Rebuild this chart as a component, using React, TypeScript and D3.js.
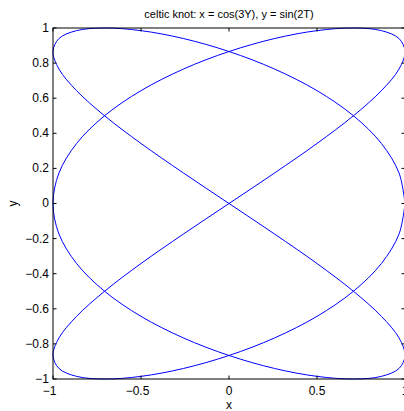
import React, { useRef, useEffect } from 'react';
import * as d3 from 'd3';

// points, in drawing order
const curveX = [
  1, 0.966, 0.866, 0.707, 0.5, 0.259, 0, -0.259, -0.5, -0.707, -0.866, -0.966,
  -1, -0.966, -0.866, -0.707, -0.5, -0.259, 0, 0.259, 0.5, 0.707, 0.866, 0.966,
  1, 0.966, 0.866, 0.707, 0.5, 0.259, 0, -0.259, -0.5, -0.707, -0.866, -0.966,
  -1, -0.966, -0.866, -0.707, -0.5, -0.259, 0, 0.259, 0.5, 0.707, 0.866, 0.966,
  1, 0.966, 0.866, 0.707, 0.5, 0.259, 0, -0.259, -0.5, -0.707, -0.866, -0.966,
  -1, -0.966, -0.866, -0.707, -0.5, -0.259, 0, 0.259, 0.5, 0.707, 0.866, 0.966,
  1,
];
const curveY = [
  0, 0.174, 0.342, 0.5, 0.643, 0.766, 0.866, 0.94, 0.985, 1, 0.985, 0.94,
  0.866, 0.766, 0.643, 0.5, 0.342, 0.174, 0, -0.174, -0.342, -0.5, -0.643, -0.766,
  -0.866, -0.94, -0.985, -1, -0.985, -0.94, -0.866, -0.766, -0.643, -0.5, -0.342, -0.174,
  0, 0.174, 0.342, 0.5, 0.643, 0.766, 0.866, 0.94, 0.985, 1, 0.985, 0.94,
  0.866, 0.766, 0.643, 0.5, 0.342, 0.174, 0, -0.174, -0.342, -0.5, -0.643, -0.766,
  -0.866, -0.94, -0.985, -1, -0.985, -0.94, -0.866, -0.766, -0.643, -0.5, -0.342, -0.174,
  0,
];

const xTicks = [-1, -0.5, 0, 0.5, 1];
const yTicks = [-1, -0.8, -0.6, -0.4, -0.2, 0, 0.2, 0.4, 0.6, 0.8, 1];

const titleText = 'celtic knot: x = cos(3Y), y = sin(2T)';
const xLabel = 'x';
const yLabel = 'y';

const fmt = (v: number) => (v < 0 ? '\u2212' + Math.abs(v) : String(v));

const App = () => {
  const svgRef = useRef<SVGSVGElement>(null);

  useEffect(() => {
    const width = 404;
    const height = 411;
    const margin = { top: 28, left: 53 };
    const innerW = 352;
    const innerH = 351;
    const tick = 3.5;

    const svg = d3.select(svgRef.current);
    svg.selectAll('*').remove();
    svg.attr('width', width).attr('height', height)
      .style('background', '#fff')
      .style('font-family', '"Liberation Sans", Arial, sans-serif');

    const x = d3.scaleLinear().domain([-1, 1]).range([margin.left, margin.left + innerW]);
    const y = d3.scaleLinear().domain([-1, 1]).range([margin.top + innerH, margin.top]);

    const pts = curveX.map((v, i) => [v, curveY[i]] as [number, number]);
    const line = d3.line<[number, number]>()
      .x(d => x(d[0]))
      .y(d => y(d[1]))
      .curve(d3.curveCatmullRom.alpha(0.5));

    svg.append('path')
      .datum(pts)
      .attr('fill', 'none')
      .attr('stroke', '#0000ff')
      .attr('stroke-width', 1)
      .attr('d', line);

    // box
    svg.append('rect')
      .attr('x', x(-1)).attr('y', y(1))
      .attr('width', innerW).attr('height', innerH)
      .attr('fill', 'none').attr('stroke', '#000').attr('stroke-width', 1);

    // inward ticks, mirrored on opposite sides
    const tg = svg.append('g').attr('stroke', '#000').attr('stroke-width', 1);
    xTicks.forEach(v => {
      tg.append('line').attr('x1', x(v)).attr('x2', x(v)).attr('y1', y(-1)).attr('y2', y(-1) - tick);
      tg.append('line').attr('x1', x(v)).attr('x2', x(v)).attr('y1', y(1)).attr('y2', y(1) + tick);
    });
    yTicks.forEach(v => {
      tg.append('line').attr('x1', x(-1)).attr('x2', x(-1) + tick).attr('y1', y(v)).attr('y2', y(v));
      tg.append('line').attr('x1', x(1)).attr('x2', x(1) - tick).attr('y1', y(v)).attr('y2', y(v));
    });

    svg.append('g').selectAll('text').data(xTicks).join('text')
      .attr('x', d => x(d) - (d < 0 ? 3.5 : 0)).attr('y', 395)
      .attr('text-anchor', 'middle').attr('font-size', 12).attr('fill', '#000')
      .text(d => fmt(d));

    svg.append('g').selectAll('text').data(yTicks).join('text')
      .attr('x', x(-1) - 4).attr('y', d => y(d)).attr('dy', '0.33em')
      .attr('text-anchor', 'end').attr('font-size', 12).attr('fill', '#000')
      .text(d => fmt(d));

    svg.append('text')
      .attr('x', x(0)).attr('y', 17.5)
      .attr('text-anchor', 'middle').attr('font-size', 11).attr('fill', '#000')
      .text(titleText);

    svg.append('text')
      .attr('x', x(0)).attr('y', 409)
      .attr('text-anchor', 'middle').attr('font-size', 12).attr('fill', '#000')
      .text(xLabel);

    svg.append('text')
      .attr('transform', `translate(17,${y(0)}) rotate(-90)`)
      .attr('text-anchor', 'middle').attr('font-size', 12).attr('fill', '#000')
      .text(yLabel);
  }, []);

  return (
    <svg ref={svgRef} style={{ position: 'absolute', left: 0, top: 0, display: 'block' }}></svg>
  );
};

export default App;
